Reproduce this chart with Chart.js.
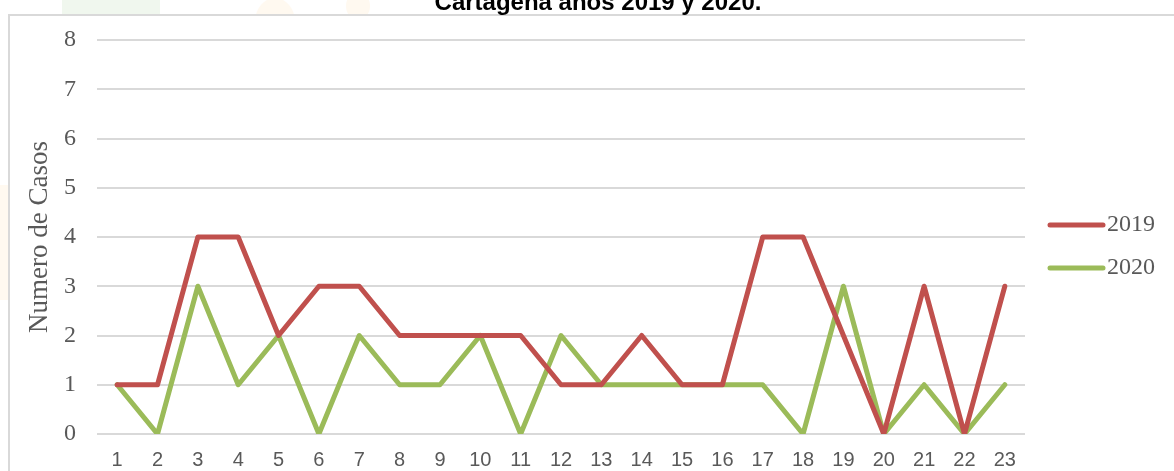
<!DOCTYPE html>
<html>
<head>
<meta charset="utf-8">
<script src="https://cdn.jsdelivr.net/npm/chart.js@4/dist/chart.umd.min.js"></script>
<style>
html,body{margin:0;padding:0;background:#fff;}
#wrap{width:1174px;height:471px;position:relative;}
</style>
</head>
<body>
<div id="wrap"><canvas id="c" width="1174" height="471"></canvas></div>
<script>
const categories = ['1','2','3','4','5','6','7','8','9','10','11','12','13','14','15','16','17','18','19','20','21','22','23'];
const values2019 = [1,1,4,4,2,3,3,2,2,2,2,1,1,2,1,1,4,4,2,0,3,0,3];
const values2020 = [1,0,3,1,2,0,2,1,1,2,0,2,1,1,1,1,1,0,3,0,1,0,1];
const seriesNames = ['2019','2020'];
const titleText = 'Cartagena años 2019 y 2020.';
const yTitle = 'Numero de Casos';

const RED = '#C0504D', GREEN = '#9BBB59', TXT = '#595959', GRID = '#D9D9D9';
const SERIF = "'Liberation Serif', 'Times New Roman', serif";
const NARROW = "'Liberation Sans Narrow', 'Arial Narrow', 'Liberation Sans', sans-serif";

const backdrop = {
  id: 'backdrop',
  beforeDraw(chart) {
    const ctx = chart.ctx;
    ctx.save();
    ctx.fillStyle = '#fff';
    ctx.fillRect(0, 0, chart.width, chart.height);
    // faint watermark shapes behind the chart frame
    ctx.fillStyle = '#F0F7EE';
    ctx.fillRect(62, 0, 98, 16);
    ctx.fillStyle = '#FFF9F0';
    ctx.beginPath(); ctx.ellipse(275, 22, 20, 24, 0, 0, Math.PI * 2); ctx.fill();
    ctx.beginPath(); ctx.ellipse(358, 6, 12, 14, 0, 0, Math.PI * 2); ctx.fill();
    ctx.fillRect(0, 185, 10, 115);
    // frame
    ctx.fillStyle = '#fff';
    ctx.fillRect(9, 15, chart.width, chart.height);
    ctx.strokeStyle = GRID;
    ctx.lineWidth = 2;
    ctx.strokeRect(9, 15, chart.width + 10, chart.height + 10);
    // title (top cut off)
    ctx.fillStyle = '#000';
    ctx.font = 'bold 24px ' + NARROW;
    ctx.textAlign = 'center';
    ctx.textBaseline = 'alphabetic';
    ctx.fillText(titleText, 598, 10);
    ctx.restore();
  }
};

const legendPlugin = {
  id: 'sideLegend',
  afterDraw(chart) {
    const ctx = chart.ctx;
    ctx.save();
    const ys = [225, 268];
    chart.data.datasets.forEach((ds, i) => {
      ctx.strokeStyle = ds.borderColor;
      ctx.lineWidth = 5;
      ctx.lineCap = 'round';
      ctx.beginPath();
      ctx.moveTo(1050, ys[i]);
      ctx.lineTo(1103, ys[i]);
      ctx.stroke();
      ctx.fillStyle = TXT;
      ctx.font = '24px ' + SERIF;
      ctx.textAlign = 'left';
      ctx.textBaseline = 'middle';
      ctx.fillText(ds.label, 1107, ys[i]);
    });
    ctx.restore();
  }
};

new Chart(document.getElementById('c'), {
  type: 'line',
  data: {
    labels: categories,
    datasets: [
      { label: seriesNames[0], data: values2019, borderColor: RED, backgroundColor: RED,
        borderWidth: 5, pointRadius: 0, tension: 0, borderJoinStyle: 'round', borderCapStyle: 'round' },
      { label: seriesNames[1], data: values2020, borderColor: GREEN, backgroundColor: GREEN,
        borderWidth: 5, pointRadius: 0, tension: 0, borderJoinStyle: 'round', borderCapStyle: 'round' }
    ]
  },
  options: {
    responsive: false,
    animation: false,
    devicePixelRatio: 1,
    layout: { padding: { top: 40, right: 149, bottom: 0, left: 0 } },
    plugins: { legend: { display: false }, tooltip: { enabled: false }, title: { display: false } },
    scales: {
      x: {
        type: 'category',
        offset: true,
        grid: { display: false, drawTicks: false },
        border: { display: false },
        ticks: { color: TXT, font: { family: NARROW, size: 20 }, padding: 14, maxRotation: 0, autoSkip: false },
        afterFit(s) { s.height = 37; }
      },
      y: {
        min: 0, max: 8,
        grid: { color: GRID, lineWidth: 2, drawTicks: false },
        border: { display: false },
        ticks: { stepSize: 1, color: TXT, font: { family: SERIF, size: 24 }, padding: 21 },
        title: { display: true, text: yTitle, color: TXT, font: { family: SERIF, size: 27 }, padding: { top: 24, bottom: 0 } },
        afterFit(s) { s.width = 97; }
      }
    }
  },
  plugins: [backdrop, legendPlugin]
});
</script>
</body>
</html>
